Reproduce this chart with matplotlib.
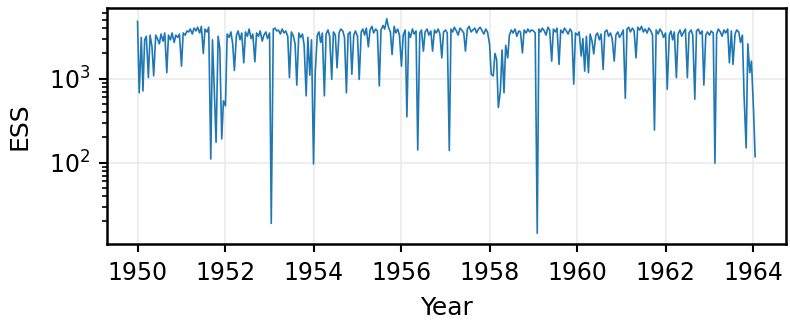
import matplotlib
matplotlib.use('Agg')
import matplotlib.pyplot as plt
import matplotlib.dates as mdates
import pandas as pd

# ESS values, two readings per month (1st and 15th)
ess_1950 = [4800, 680, 3100, 715, 2900, 3200, 1030, 3300, 2400, 1080, 3300, 3000,
            2600, 3400, 2800, 3500, 1180, 3300, 2900, 3500, 2700, 3300, 3100, 3400]
ess_1951 = [1410, 3500, 3300, 3700, 3600, 3900, 3400, 4000, 3700, 4100, 3500, 4200,
            2000, 3900, 3600, 4100, 111, 2900, 680, 175, 3200, 2300, 192, 545]
ess_1952 = [475, 3400, 3100, 3600, 2600, 1255, 3300, 3700, 2900, 3500, 1545, 3600,
            3200, 3900, 3000, 3400, 1590, 3500, 3200, 3700, 2800, 3300, 3600, 3000]
ess_1953 = [3500, 19, 3900, 4000, 3700, 3800, 3400, 3900, 3500, 3700, 3200, 1030,
            3600, 3300, 2600, 840, 3500, 3100, 3400, 2500, 625, 3100, 1100, 2900]
ess_1954 = [97, 1180, 3300, 3600, 2700, 3500, 625, 3400, 3800, 3200, 980, 3600,
            3300, 1350, 3500, 3900, 3700, 3100, 680, 3400, 3600, 1130, 3300, 3700]
ess_1955 = [3200, 980, 3600, 3900, 3300, 4000, 2400, 3800, 4200, 3500, 3900, 3700,
            820, 3800, 4300, 3900, 5170, 4100, 3600, 1940, 4200, 3500, 3900, 3300]
ess_1956 = [1410, 3300, 3800, 352, 3600, 3100, 3900, 3400, 3700, 142, 3500, 3800,
            2130, 3600, 3900, 3300, 3700, 2130, 3800, 3500, 3900, 3400, 1770, 3600]
ess_1957 = [3800, 3500, 140, 3900, 3600, 4100, 3700, 3300, 4000, 3800, 3500, 2130,
            3900, 4200, 3600, 3800, 4000, 3500, 3900, 4100, 3700, 3400, 3900, 3600]
ess_1958 = [2600, 1130, 1080, 2000, 1700, 455, 715, 2200, 680, 2500, 1770, 3300,
            3800, 3500, 3900, 3200, 3700, 3600, 2030, 3800, 3500, 3900, 3600, 3800]
ess_1959 = [3700, 3500, 14.5, 3900, 3600, 4000, 3700, 3300, 4100, 3800, 1620, 3900,
            3600, 4000, 1480, 3800, 3500, 4000, 3700, 3400, 3900, 3600, 860, 3500]
ess_1960 = [3300, 3600, 1860, 3000, 1230, 3200, 1180, 3400, 2800, 1970, 3300, 3500,
            2900, 3400, 1290, 3600, 3800, 3200, 3500, 3000, 1620, 3300, 3600, 3100]
ess_1961 = [3400, 3800, 585, 3900, 4100, 3600, 4000, 3700, 1770, 4100, 3800, 4200,
            3600, 3900, 3500, 4000, 3700, 3300, 245, 3800, 3400, 3900, 3600, 3100]
ess_1962 = [3500, 750, 3300, 3700, 2900, 3600, 1030, 3400, 3800, 3200, 3600, 3900,
            1030, 3500, 3800, 3300, 570, 3700, 3900, 3400, 3700, 840, 3300, 3600]
ess_1963 = [3300, 3700, 3500, 99, 3400, 3900, 3600, 3200, 3800, 3500, 3900, 1545,
            3700, 1480, 3400, 3800, 3600, 2700, 3300, 625, 150, 2600, 1180, 1620]
ess_1964 = [435, 118]

ess = (ess_1950 + ess_1951 + ess_1952 + ess_1953 + ess_1954 + ess_1955 + ess_1956
       + ess_1957 + ess_1958 + ess_1959 + ess_1960 + ess_1961 + ess_1962 + ess_1963
       + ess_1964)
dates = pd.date_range('1950-01-01', periods=len(ess), freq='SMS')

plt.rcParams['font.family'] = 'DejaVu Sans'

fig = plt.figure(figsize=(7.9, 3.21), dpi=100)
ax = fig.add_axes([0.135, 0.24, 0.86, 0.735])

ax.plot(dates, ess, color='#1f77b4', linewidth=1.2)
ax.set_yscale('log')

ax.xaxis.set_major_locator(mdates.YearLocator(2))
ax.xaxis.set_major_formatter(mdates.DateFormatter('%Y'))

ax.grid(True, which='major', color='#ebebeb', linewidth=1.2)
ax.set_axisbelow(True)

for s in ax.spines.values():
    s.set_linewidth(1.8)
ax.tick_params(axis='both', which='major', labelsize=17, width=1.5, length=6, pad=6)
ax.tick_params(axis='y', which='minor', width=1.2, length=3.5)

ax.set_xlabel('Year', fontsize=18, labelpad=8)
ax.set_ylabel('ESS', fontsize=18, labelpad=12)

fig.savefig('out.png', dpi=100, facecolor='white')
